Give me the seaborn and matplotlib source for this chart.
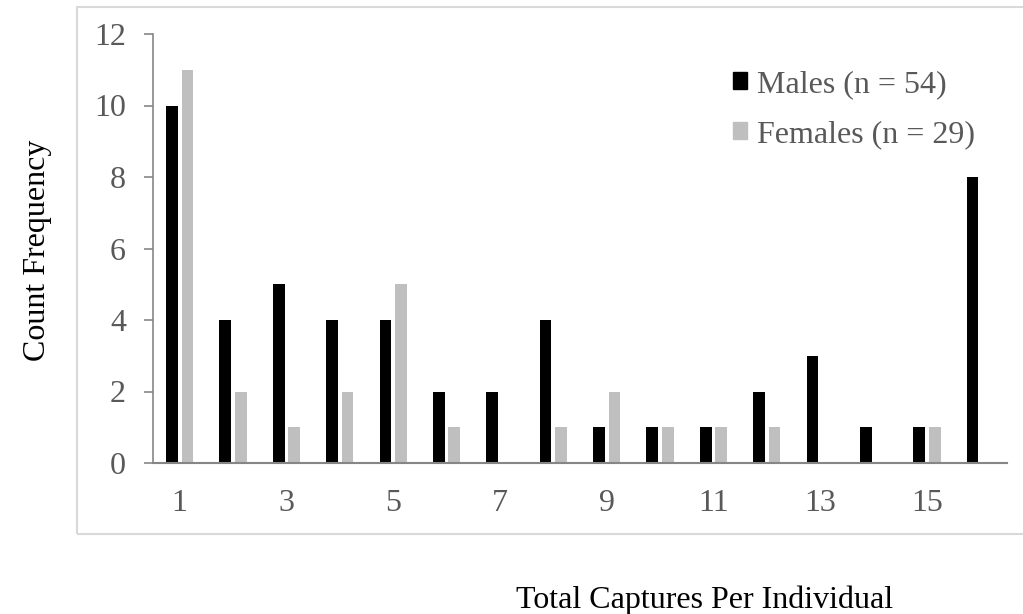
import pandas as pd
import matplotlib.pyplot as plt
import matplotlib.patches as mpatches
import seaborn as sns

# Capture counts per individual
captures = [str(i) for i in range(1, 17)]
males = [10, 4, 5, 4, 4, 2, 2, 4, 1, 1, 1, 2, 3, 1, 1, 8]
females = [11, 2, 1, 2, 5, 1, 0, 1, 2, 1, 1, 1, 0, 0, 1, 0]
series = ['Males (n = 54)', 'Females (n = 29)']
tick_labels = ['1', '3', '5', '7', '9', '11', '13', '15']

df = pd.DataFrame({
    'captures': captures * 2,
    'count': males + females,
    'sex': [series[0]] * len(males) + [series[1]] * len(females),
})

sns.set_style('white')
plt.rcParams['font.family'] = ['Liberation Serif', 'DejaVu Serif']

fig = plt.figure(figsize=(10.23, 6.14), dpi=100)
ax = fig.add_axes([153 / 1023, 1 - 463 / 614, (1007 - 153) / 1023, (463 - 34) / 614])

colors = ['#000000', '#BFBFBF']
sns.barplot(data=df, x='captures', y='count', hue='sex', order=captures,
            hue_order=series, palette=colors, width=0.58, gap=0.24,
            saturation=1, legend=False, linewidth=0, ax=ax)

ax.set_xlim(-0.5, 15.5)
ax.set_ylim(0, 12)
ax.set_yticks(range(0, 13, 2))
ax.set_xticks(range(0, 16, 2))
ax.set_xticklabels(tick_labels)
ax.set_xlabel('')
ax.set_ylabel('')

axis_grey = '#868686'
text_grey = '#595959'
for side in ['top', 'right']:
    ax.spines[side].set_visible(False)
ax.spines['left'].set_color(axis_grey)
ax.spines['bottom'].set_color(axis_grey)
ax.spines['left'].set_linewidth(1.2)
ax.spines['bottom'].set_linewidth(1.5)
ax.tick_params(axis='y', left=True, length=6.5, width=1.2, color=axis_grey,
               labelsize=23, labelcolor=text_grey, pad=13)
ax.tick_params(axis='x', bottom=False, labelsize=23, labelcolor=text_grey, pad=15)

# axis titles placed like the original
fig.text(38 / 1023, 1 - 250 / 614, 'Count Frequency', rotation=90, fontsize=23,
         ha='center', va='center', color='black')
fig.text(705 / 1023, 1 - 600 / 614, 'Total Captures Per Individual', fontsize=23,
         ha='center', va='center', color='black')

handles = [mpatches.Patch(color=c, label=s) for c, s in zip(colors, series)]
leg = ax.legend(handles=handles, loc='upper left', frameon=False, fontsize=23,
                bbox_to_anchor=(733 / 1023, 1 - 70 / 614), bbox_transform=fig.transFigure,
                handlelength=0.45, handleheight=0.45, handletextpad=0.3,
                labelspacing=0.66, borderaxespad=0, borderpad=0)
for t in leg.get_texts():
    t.set_color(text_grey)

# outer chart border
fig.patches.append(mpatches.Rectangle((77 / 1023, 1 - 534 / 614), 1.0, (534 - 7) / 614,
                                      transform=fig.transFigure, fill=False,
                                      edgecolor='#D9D9D9', linewidth=1.5))

fig.savefig('out.png', dpi=100)
